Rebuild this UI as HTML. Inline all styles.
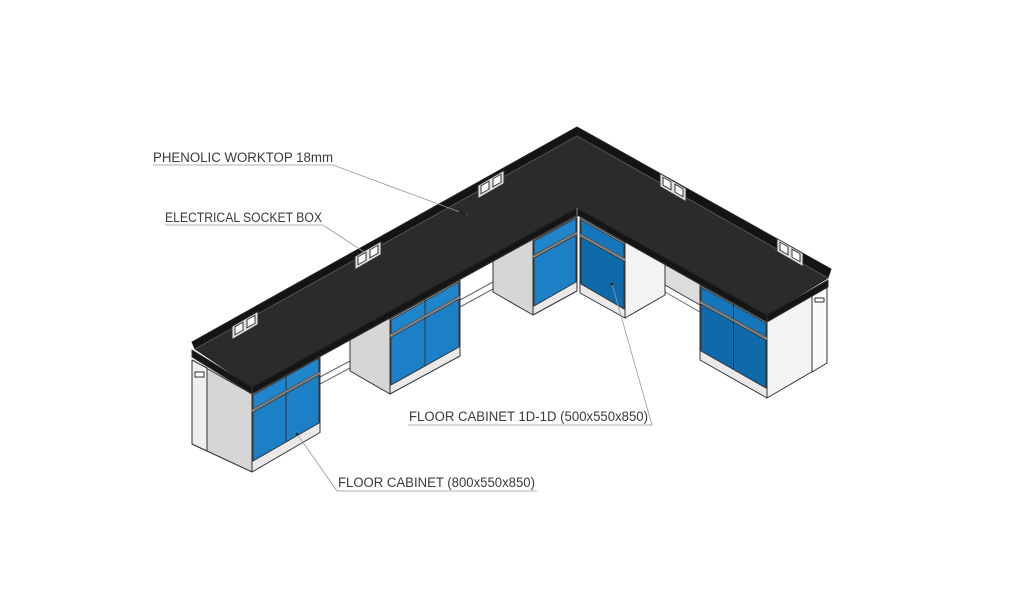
<!DOCTYPE html>
<html><head><meta charset="utf-8"><style>
html,body{margin:0;padding:0;background:#fff;}
svg{display:block;}
text{font-family:"Liberation Sans",sans-serif;font-size:13.5px;fill:#3a3a3a;}
</style></head><body>
<svg width="1024" height="610" viewBox="0 0 1024 610" xmlns="http://www.w3.org/2000/svg">
<g stroke="#333" stroke-width="1" stroke-linejoin="round">
<polyline points="320,377 350,361" fill="none" stroke="#666"/>
<polyline points="320,384 350,368" fill="none" stroke="#666"/>
<polyline points="460,300 493,282" fill="none" stroke="#666"/>
<polyline points="460,307 493,289" fill="none" stroke="#666"/>
<polygon points="665,200 700,220 700,305 665,285" fill="#dcdcdc"/>
<polyline points="665,292 700,312" fill="none" stroke="#666"/>

<polygon points="252,394 192,360 192,444 252,472" fill="#d6d6d6"/>
<polygon points="192,360 207,368 207,451 192,444" fill="#eeeeee"/>
<rect x="195" y="372" width="9" height="5" fill="#fff"/>
<polygon points="252,394 320,356.5 320,432.5 252,472" fill="#e9e9e9"/>
<polygon points="253,395 319,358 319,372 253,409" fill="#1f86cc"/>
<polygon points="253,412 319,375 319,423 253,461" fill="#1b80c6"/>
<line x1="286" y1="376" x2="286" y2="442"/>
<line x1="286" y1="372" x2="286" y2="390"/>
<line x1="253" y1="410" x2="319" y2="373" stroke="#777" stroke-width="2"/>

<polygon points="390,319 350,296 350,371 390,394" fill="#d6d6d6"/>
<polygon points="390,319 460,280 460,356 390,394" fill="#e9e9e9"/>
<polygon points="391,320 459,282 459,296 391,334" fill="#1f86cc"/>
<polygon points="391,337 459,299 459,347 391,385" fill="#1b80c6"/>
<line x1="425" y1="300" x2="425" y2="366"/>
<line x1="425" y1="298" x2="425" y2="315"/>
<line x1="391" y1="335" x2="459" y2="297" stroke="#777" stroke-width="2"/>

<polygon points="533,240 493,217 493,292 533,315" fill="#d6d6d6"/>
<polygon points="533,240 577,216 577,291 533,315" fill="#e9e9e9"/>
<polygon points="534,241 576,218 576,232 534,255" fill="#1f86cc"/>
<polygon points="534,258 576,235 576,282 534,306" fill="#1b80c6"/>
<line x1="534" y1="256" x2="576" y2="233" stroke="#777" stroke-width="2"/>

<polygon points="625,243 665,220 665,295 625,318" fill="#f3f3f3"/>
<polygon points="580,218 625,243 625,318 580,293" fill="#e9e9e9"/>
<polygon points="581,220 624,244 624,258 581,234" fill="#1477bb"/>
<polygon points="581,237 624,261 624,309 581,284" fill="#0e6aa8"/>
<line x1="581" y1="235" x2="624" y2="259" stroke="#777" stroke-width="2"/>

<polygon points="767,322 827,287 827,363 767,398" fill="#f3f3f3"/>
<polygon points="812,296 827,287 827,363 812,372" fill="#fafafa"/>
<rect x="815" y="298" width="9" height="4" fill="#fff"/>
<polygon points="700,285 767,322 767,398 700,360" fill="#e9e9e9"/>
<polygon points="701,287 766,323 766,337 701,301" fill="#1477bb"/>
<polygon points="701,304 766,340 766,388 701,351" fill="#0e6aa8"/>
<line x1="733.5" y1="305" x2="733.5" y2="369"/>
<line x1="733.5" y1="304" x2="733.5" y2="320"/>
<line x1="701" y1="302" x2="766" y2="338" stroke="#777" stroke-width="2"/>

<polygon points="252,387 577,208 577,215 252,394" fill="#151515"/>
<polygon points="577,208 767,315 767,322 577,215" fill="#151515"/>
<polygon points="192,350 252,387 252,394 192,357" fill="#151515"/>
<polygon points="767,315 828,280 828,287 767,322" fill="#151515"/>
<polygon points="195,349 577,136 828,278 767,315 577,208 252,387" fill="#2b2b2b" stroke="#222"/>
<polygon points="192,342 577,127 831,269 828,278 577,136 195,349" fill="#141414" stroke="#222"/>
<polyline points="195,349 577,136 828,278" fill="none" stroke="#555"/>
<line x1="577" y1="208" x2="577" y2="215" stroke="#888"/>
</g>

<g stroke="#333" stroke-width="1">
<g transform="translate(245,333) skewY(-30)"><rect x="-13" y="-14" width="26" height="13" fill="#e0e0e0"/><rect x="-10" y="-12" width="8" height="8" fill="#fff"/><rect x="2" y="-12" width="8" height="8" fill="#fff"/></g>
<g transform="translate(368,263) skewY(-30)"><rect x="-13" y="-14" width="26" height="13" fill="#e0e0e0"/><rect x="-10" y="-12" width="8" height="8" fill="#fff"/><rect x="2" y="-12" width="8" height="8" fill="#fff"/></g>
<g transform="translate(491,192) skewY(-30)"><rect x="-13" y="-14" width="26" height="13" fill="#e0e0e0"/><rect x="-10" y="-12" width="8" height="8" fill="#fff"/><rect x="2" y="-12" width="8" height="8" fill="#fff"/></g>
<g transform="translate(673,195) skewY(30)"><rect x="-13" y="-14" width="26" height="13" fill="#e0e0e0"/><rect x="-10" y="-12" width="8" height="8" fill="#fff"/><rect x="2" y="-12" width="8" height="8" fill="#fff"/></g>
<g transform="translate(790,260) skewY(30)"><rect x="-13" y="-14" width="26" height="13" fill="#e0e0e0"/><rect x="-10" y="-12" width="8" height="8" fill="#fff"/><rect x="2" y="-12" width="8" height="8" fill="#fff"/></g>
</g>

<g stroke="#999" stroke-width="0.8" fill="none">
<polyline points="153,165 333,165 468,215"/>
<polyline points="165,225 323,225 364,252"/>
<polyline points="408,425 652,425 612,284"/>
<polyline points="337,491 537,491"/>
<polyline points="337,491 297,434"/>
</g>
<polygon points="468,215 458,209 460,214" fill="#222"/>
<circle cx="612" cy="284" r="1.3" fill="#222"/>
<circle cx="297" cy="434" r="1.3" fill="#222"/>
<text x="153" y="162" textLength="180" lengthAdjust="spacingAndGlyphs">PHENOLIC WORKTOP 18mm</text>
<text x="165" y="222" textLength="157" lengthAdjust="spacingAndGlyphs">ELECTRICAL SOCKET BOX</text>
<text x="409" y="421" textLength="239" lengthAdjust="spacingAndGlyphs">FLOOR CABINET 1D-1D (500x550x850)</text>
<text x="338" y="487" textLength="197" lengthAdjust="spacingAndGlyphs">FLOOR CABINET (800x550x850)</text>
</svg>
</body></html>
